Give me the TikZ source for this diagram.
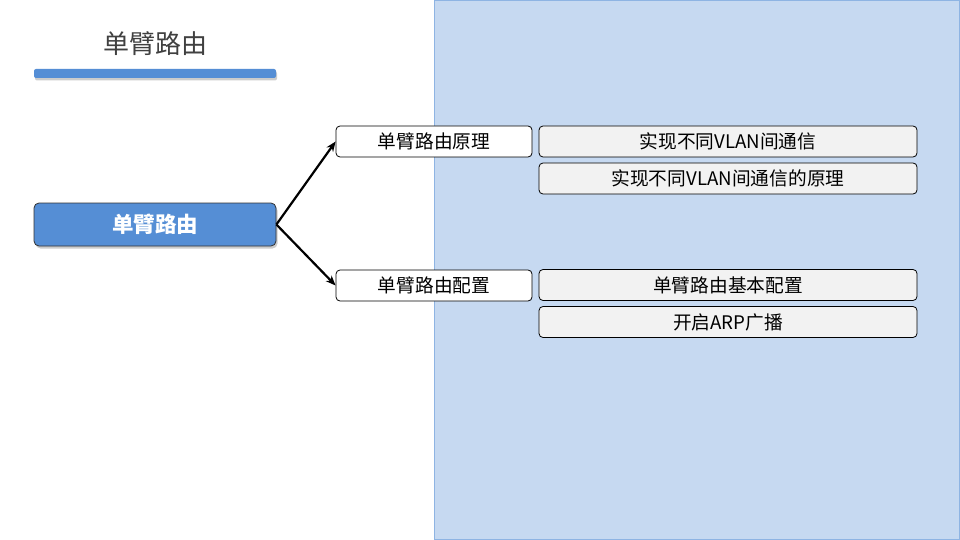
\documentclass[tikz,border=0pt]{standalone}
\usepackage{fontspec}
\setmainfont{Noto Sans CJK SC}
\usetikzlibrary{shadows,arrows.meta}
\definecolor{panelfill}{HTML}{C6D9F1}
\definecolor{panelline}{HTML}{8EB4E3}
\definecolor{mainblue}{HTML}{558ED5}
\definecolor{boxgray}{HTML}{F2F2F2}
\definecolor{titlegray}{HTML}{404040}
\tikzset{
  boxbase/.style={draw=black, line width=0.8pt, rounded corners=4pt, inner sep=0pt, font=\fontsize{18.7}{20}\selectfont},
  midbox/.style={boxbase, fill=white, minimum width=196pt, minimum height=31pt},
  rightbox/.style={boxbase, fill=boxgray, minimum width=378pt, minimum height=31pt},
  rootbox/.style={draw=black!80, line width=0.8pt, rounded corners=5pt, fill=mainblue, text=white,
    minimum width=242pt, minimum height=43pt, font=\fontsize{21.5}{23}\selectfont\bfseries,
    drop shadow={shadow xshift=1.5pt, shadow yshift=-2.5pt, opacity=0.4}},
  conn/.style={-{Stealth[length=10pt,width=8pt]}, line width=2.2pt, black}
}
\begin{document}
\begin{tikzpicture}[x=1pt,y=-1pt]
\useasboundingbox (0,0) rectangle (960,540);
\fill[white] (0,0) rectangle (960,540);
\draw[panelline, fill=panelfill, line width=0.8pt] (434.5,0.5) rectangle (959.5,539.5);
\node[text=titlegray, font=\fontsize{26}{30}\selectfont] (title) at (155,44) {单臂路由};
\fill[mainblue, rounded corners=2pt, drop shadow={shadow xshift=1pt, shadow yshift=-2.5pt, opacity=0.4}] (34,69) rectangle (276,78);
\node[rootbox] (root) at (155,224.5) {单臂路由};
\node[midbox] (p1) at (434,141.5) {单臂路由原理};
\node[midbox] (p2) at (434,285.5) {单臂路由配置};
\node[rightbox] (r1) at (728,141.5) {实现不同VLAN间通信};
\node[rightbox] (r2) at (728,178.5) {实现不同VLAN间通信的原理};
\node[rightbox] (r3) at (728,285) {单臂路由基本配置};
\node[rightbox] (r4) at (728,322) {开启ARP广播};
\draw[conn] (root.east) -- (p1.west);
\draw[conn] (root.east) -- (p2.west);
\end{tikzpicture}
\end{document}
